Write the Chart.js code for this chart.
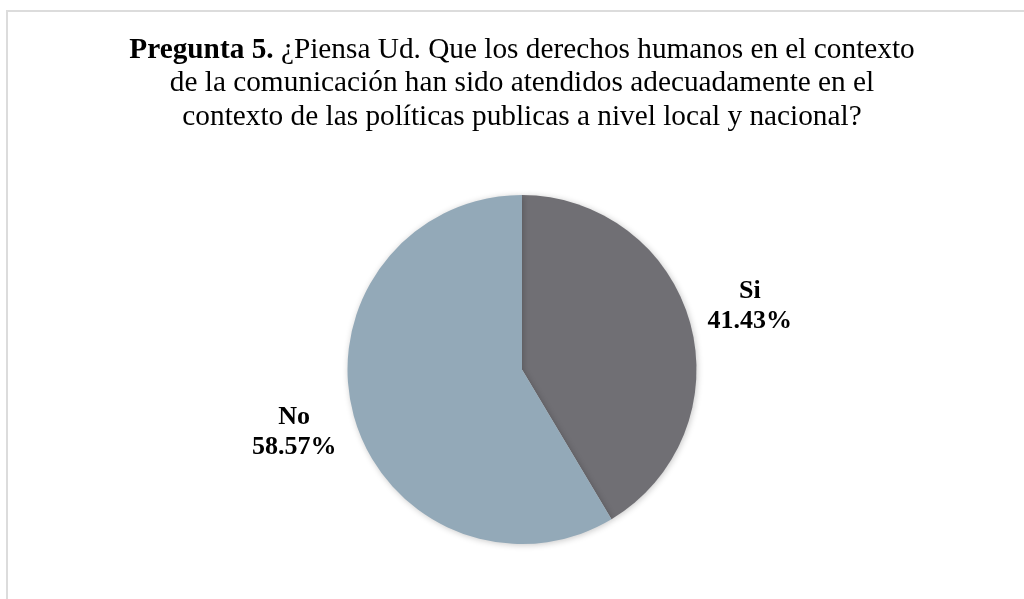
<!DOCTYPE html>
<html>
<head>
<meta charset="utf-8">
<script src="https://cdn.jsdelivr.net/npm/chart.js@4/dist/chart.umd.min.js"></script>
<style>
  html, body { margin: 0; padding: 0; background: #ffffff; overflow: hidden; }
  #wrap { position: absolute; left: 0; top: 0; width: 1024px; height: 599px; }
  #frame { position: absolute; left: 6px; top: 10px; width: 1100px; height: 700px; border: 2px solid #dcdcdc; box-sizing: border-box; }
  canvas { position: absolute; left: 0; top: 0; }
</style>
</head>
<body>
<div id="wrap">
  <div id="frame"></div>
  <canvas id="c" width="1024" height="599"></canvas>
</div>
<script>
const categories = ["Si", "No"];
const values = [41.43, 58.57];
const valueLabels = ["41.43%", "58.57%"];
const colors = ["#706f74", "#93a9b8"];
const titleBold = "Pregunta 5.";
const titleLines = [
  " ¿Piensa Ud. Que los derechos humanos en el contexto",
  "de la comunicación han sido atendidos adecuadamente en el",
  "contexto de las políticas publicas a nivel local y nacional?"
];

const titlePlugin = {
  id: 'titlePlugin',
  afterDraw(chart) {
    const ctx = chart.ctx;
    ctx.save();
    ctx.fillStyle = '#000';
    ctx.textBaseline = 'middle';
    const cx = 522;
    const boldFont = 'bold 29.3px "Liberation Serif", "Times New Roman", serif';
    const normFont = '29.3px "Liberation Serif", "Times New Roman", serif';
    ctx.font = boldFont;
    const wb = ctx.measureText(titleBold).width;
    ctx.font = normFont;
    const wn = ctx.measureText(titleLines[0]).width;
    let x0 = cx - (wb + wn) / 2;
    ctx.textAlign = 'left';
    ctx.font = boldFont;
    ctx.fillText(titleBold, x0, 50);
    ctx.font = normFont;
    ctx.fillText(titleLines[0], x0 + wb, 50);
    ctx.textAlign = 'center';
    for (let i = 1; i < titleLines.length; i++) {
      ctx.fillText(titleLines[i], cx, 50 + 33.5 * i);
    }
    ctx.restore();
  }
};

const shadowPlugin = {
  id: 'shadowPlugin',
  beforeDatasetsDraw(chart) {
    const ctx = chart.ctx;
    ctx.save();
    ctx.shadowColor = 'rgba(0,0,0,0.22)';
    ctx.shadowBlur = 6;
    ctx.shadowOffsetX = 1;
    ctx.shadowOffsetY = 1;
  },
  afterDatasetsDraw(chart) {
    chart.ctx.restore();
  }
};

const labelPlugin = {
  id: 'labelPlugin',
  afterDatasetsDraw(chart) {
    const ctx = chart.ctx;
    const meta = chart.getDatasetMeta(0);
    ctx.save();
    ctx.font = 'bold 26px "Liberation Serif", "Times New Roman", serif';
    ctx.fillStyle = '#000';
    ctx.textAlign = 'center';
    ctx.textBaseline = 'middle';
    meta.data.forEach((arc, i) => {
      const p = arc.getProps(['x', 'y', 'startAngle', 'endAngle', 'outerRadius'], true);
      const mid = (p.startAngle + p.endAngle) / 2;
      const dx = Math.cos(mid), dy = Math.sin(mid);
      const w = Math.max(ctx.measureText(categories[i]).width, ctx.measureText(valueLabels[i]).width);
      const h = 60;
      const half = Math.min(Math.abs(dx) > 1e-6 ? (w / 2) / Math.abs(dx) : 1e9,
                            Math.abs(dy) > 1e-6 ? (h / 2) / Math.abs(dy) : 1e9);
      const d = p.outerRadius + 18 + half;
      const lx = p.x + dx * d, ly = p.y + dy * d;
      ctx.fillText(categories[i], lx, ly - 15);
      ctx.fillText(valueLabels[i], lx, ly + 15);
    });
    ctx.restore();
  }
};

new Chart(document.getElementById('c'), {
  type: 'pie',
  data: {
    labels: categories,
    datasets: [{
      data: values,
      backgroundColor: colors,
      borderWidth: 0
    }]
  },
  options: {
    responsive: false,
    animation: false,
    layout: { padding: { left: 20, right: 0, top: 195, bottom: 55 } },
    plugins: {
      legend: { display: false },
      tooltip: { enabled: false },
      title: { display: false }
    }
  },
  plugins: [shadowPlugin, labelPlugin, titlePlugin]
});
</script>
</body>
</html>
